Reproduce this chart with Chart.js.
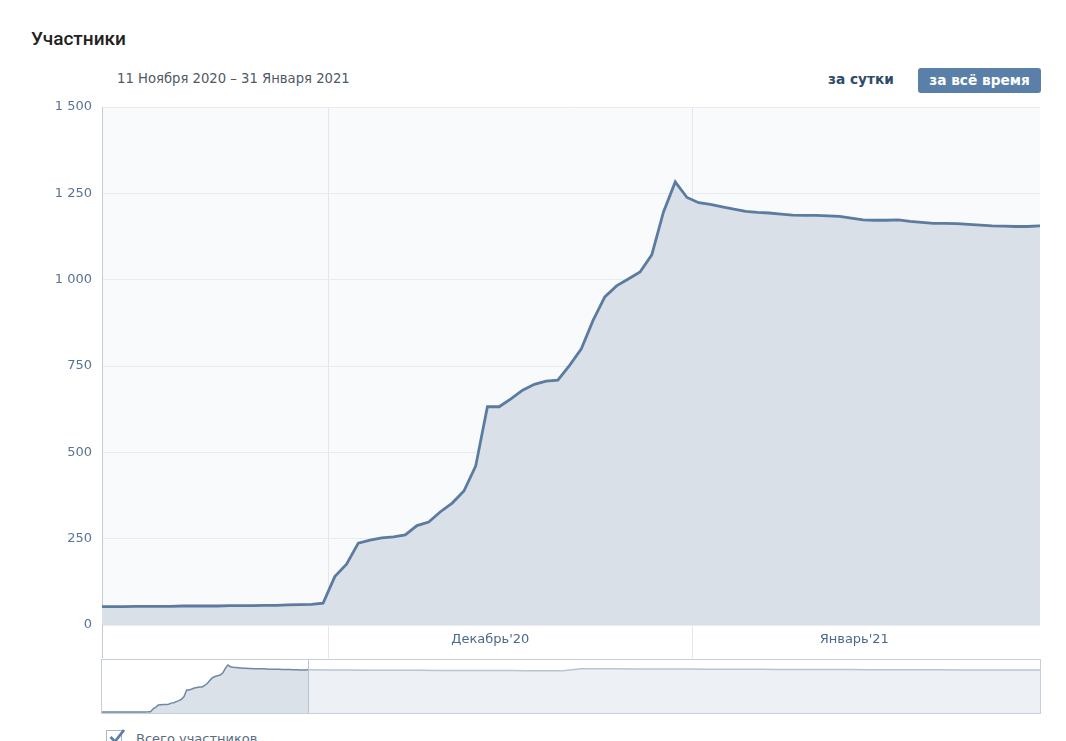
<!DOCTYPE html>
<html lang="ru">
<head>
<meta charset="utf-8">
<title>Участники</title>
<script src="https://cdn.jsdelivr.net/npm/chart.js@4.4.1/dist/chart.umd.min.js"></script>
<style>
  html, body { margin: 0; padding: 0; background: #ffffff; }
  body { width: 1066px; height: 741px; position: relative; overflow: hidden; }
  .title { position: absolute; left: 31px; top: 27px; font: 500 19px Roboto, "Noto Sans", sans-serif; color: #222222; }
  .range { position: absolute; left: 117px; top: 71px; font: 13.2px "DejaVu Sans", sans-serif; color: #4f5965; white-space: nowrap; }
  .btn-day { position: absolute; left: 828px; top: 71px; font: bold 13.7px "DejaVu Sans", sans-serif; color: #2f4b6b; white-space: nowrap; }
  .btn-all { position: absolute; left: 918px; top: 68px; width: 123px; height: 25px; border-radius: 3px; background: #5a7fa8;
             font: bold 13.7px "DejaVu Sans", sans-serif; color: #ffffff; text-align: center; line-height: 25px; white-space: nowrap; }
  #mainWrap { position: absolute; left: 0; top: 95px; }
  #navWrap { position: absolute; left: 101px; top: 659px; border: 1px solid #c6ced7; width: 938px; height: 53px; }
  .legend { position: absolute; left: 106px; top: 729px; white-space: nowrap; }
  .legend .box { position: absolute; left: 0; top: 1px; width: 16px; height: 16px; border: 1px solid #a9b7c7; background: #fff; box-sizing: border-box; }
  .legend svg { position: absolute; left: 2px; top: -2px; }
  .legend .txt { position: absolute; left: 30px; top: 2px; font: 13px "DejaVu Sans", sans-serif; color: #5a6c80; }
</style>
</head>
<body>
<div class="title">Участники</div>
<div class="range">11 Ноября 2020 – 31 Января 2021</div>
<div class="btn-day">за сутки</div>
<div class="btn-all">за всё время</div>
<div id="mainWrap"><canvas id="main" width="1066" height="563"></canvas></div>
<div id="navWrap"><canvas id="nav" width="938" height="53"></canvas></div>
<div class="legend">
  <div class="box"></div>
  <svg width="18" height="18" viewBox="0 0 18 18"><path d="M2.5 10 L7 14.5 L16 3" fill="none" stroke="#5a7fa8" stroke-width="2.8"/></svg>
  <div class="txt">Всего участников</div>
</div>
<script>
// ---- data ----
const startDate = '2020-11-11';               // first daily point
const memberCounts = [                         // daily totals, 11 Nov 2020 – 31 Jan 2021
  53, 53, 53, 54, 54, 54, 54, 55, 55, 55,
  55, 56, 56, 56, 57, 57, 58, 59, 60, 63,
  140, 176, 237, 246, 252, 255, 261, 288, 298, 328,
  353, 388, 460, 632, 632, 655, 680, 697, 706, 709,
  752, 800, 882, 950, 982, 1002, 1022, 1072, 1196, 1283,
  1238, 1223, 1218, 1211, 1204, 1198, 1195, 1193, 1190, 1187,
  1186, 1186, 1185, 1183, 1178, 1173, 1172, 1172, 1173, 1169,
  1166, 1163, 1163, 1162, 1160, 1158, 1156, 1155, 1154, 1154,
  1156, 1156
];
const laterWeekly = [                          // navigator: weekly totals after 31 Jan 2021
  1152, 1150, 1148, 1146, 1145, 1143, 1141, 1140, 1138, 1137,
  1136, 1135, 1134, 1133, 1185, 1184, 1182, 1180, 1178, 1177,
  1175, 1173, 1172, 1170, 1169, 1167, 1166, 1165, 1163, 1162,
  1160, 1159, 1158, 1157, 1156, 1155, 1154, 1153, 1152, 1151,
  1150
];
const monthStarts = ['2020-12-01', '2021-01-01'];
const monthLabels = ["Декабрь'20", "Январь'21"];
const yTicks = [0, 250, 500, 750, 1000, 1250, 1500];

// ---- helpers ----
const DAY = 86400000;
const dayOf = s => (Date.parse(s + 'T00:00:00Z') - Date.parse(startDate + 'T00:00:00Z')) / DAY;
const viewMin = 0.17, viewMax = 80.07;         // visible window (days from first point)
const navMax = 364;
const mainPts = memberCounts.map((v, i) => ({ x: i, y: v }));
const lastDay = memberCounts.length - 1;
const navPts = mainPts.concat(laterWeekly.map((v, k) => ({ x: lastDay + 7 * (k + 1), y: v })));

// x ticks: month boundaries (points are plotted at mid-day) + label positions
const bounds = monthStarts.map(s => dayOf(s) - 0.5);
const labelPos = bounds.map(b => b + 13.75);
const xTickVals = [viewMin, bounds[0], labelPos[0], bounds[1], labelPos[1]];
const xTickText = ['', '', monthLabels[0], '', monthLabels[1]];
const xTickKind = ['edge', 'bound', 'label', 'bound', 'label'];
const tickCol = c => xTickKind[c.index] === 'bound' ? '#e3e7ec' : (xTickKind[c.index] === 'edge' ? '#c3cbd4' : 'rgba(0,0,0,0)');

const plotBg = {
  id: 'plotBg',
  beforeDraw(chart) {
    const { ctx, chartArea: a } = chart;
    ctx.save();
    ctx.fillStyle = '#f9fafb';
    ctx.fillRect(a.left, a.top, a.right - a.left, a.bottom - a.top);
    ctx.restore();
  }
};

new Chart(document.getElementById('main'), {
  type: 'line',
  data: {
    datasets: [{
      data: mainPts,
      borderColor: '#5b7ba1',
      borderWidth: 2.8,
      backgroundColor: '#dae0e8',
      fill: 'origin',
      pointRadius: 0,
      tension: 0,
      clip: 0
    }]
  },
  options: {
    responsive: false,
    animation: false,
    layout: { padding: { top: 12, right: 26, left: 0, bottom: 0 } },
    plugins: { legend: { display: false }, tooltip: { enabled: false } },
    scales: {
      x: {
        type: 'linear',
        min: viewMin,
        max: viewMax,
        afterBuildTicks: s => { s.ticks = xTickVals.map(v => ({ value: v })); },
        afterFit: s => { s.height = 33; },
        border: { display: false },
        grid: { drawTicks: true, tickLength: 33, color: tickCol, tickColor: tickCol, lineWidth: 1 },
        ticks: {
          autoSkip: false,
          maxRotation: 0,
          padding: -26,
          color: '#4a6a8c',
          font: { family: 'DejaVu Sans', size: 13 },
          callback: (v, i) => xTickText[i]
        }
      },
      y: {
        min: 0,
        max: 1500,
        afterBuildTicks: s => { s.ticks = yTicks.map(v => ({ value: v })); },
        afterFit: s => { s.width = 102; s.paddingTop = 0; s.paddingBottom = 0; },
        border: { display: true, color: '#c3cbd4' },
        grid: { drawTicks: false, color: '#e8ebef' },
        ticks: {
          padding: 10,
          color: '#5a7393',
          font: { family: 'DejaVu Sans', size: 13 },
          callback: v => String(v).replace(/\B(?=(\d{3})+(?!\d))/g, ' ')
        }
      }
    }
  },
  plugins: [plotBg]
});

const navMask = {
  id: 'navMask',
  afterDatasetsDraw(chart) {
    const { ctx, chartArea: a, scales: { x } } = chart;
    const sel = x.getPixelForValue(viewMax);
    ctx.save();
    ctx.fillStyle = 'rgba(255,255,255,0.5)';
    ctx.fillRect(sel, a.top, a.right - sel, a.bottom - a.top);
    ctx.strokeStyle = '#b9c3ce';
    ctx.lineWidth = 1;
    ctx.beginPath();
    ctx.moveTo(Math.round(sel) + 0.5, a.top);
    ctx.lineTo(Math.round(sel) + 0.5, a.bottom);
    ctx.stroke();
    ctx.restore();
  }
};

new Chart(document.getElementById('nav'), {
  type: 'line',
  data: {
    datasets: [{
      data: navPts,
      borderColor: '#6f88a5',
      borderWidth: 1.5,
      backgroundColor: '#dbe1e9',
      fill: 'start',
      pointRadius: 0,
      tension: 0
    }]
  },
  options: {
    responsive: false,
    animation: false,
    layout: { padding: 0 },
    plugins: { legend: { display: false }, tooltip: { enabled: false } },
    scales: {
      x: { type: 'linear', display: false, min: viewMin, max: navMax },
      y: { display: false, min: 30, max: 1413 }
    }
  },
  plugins: [navMask]
});
</script>
</body>
</html>
